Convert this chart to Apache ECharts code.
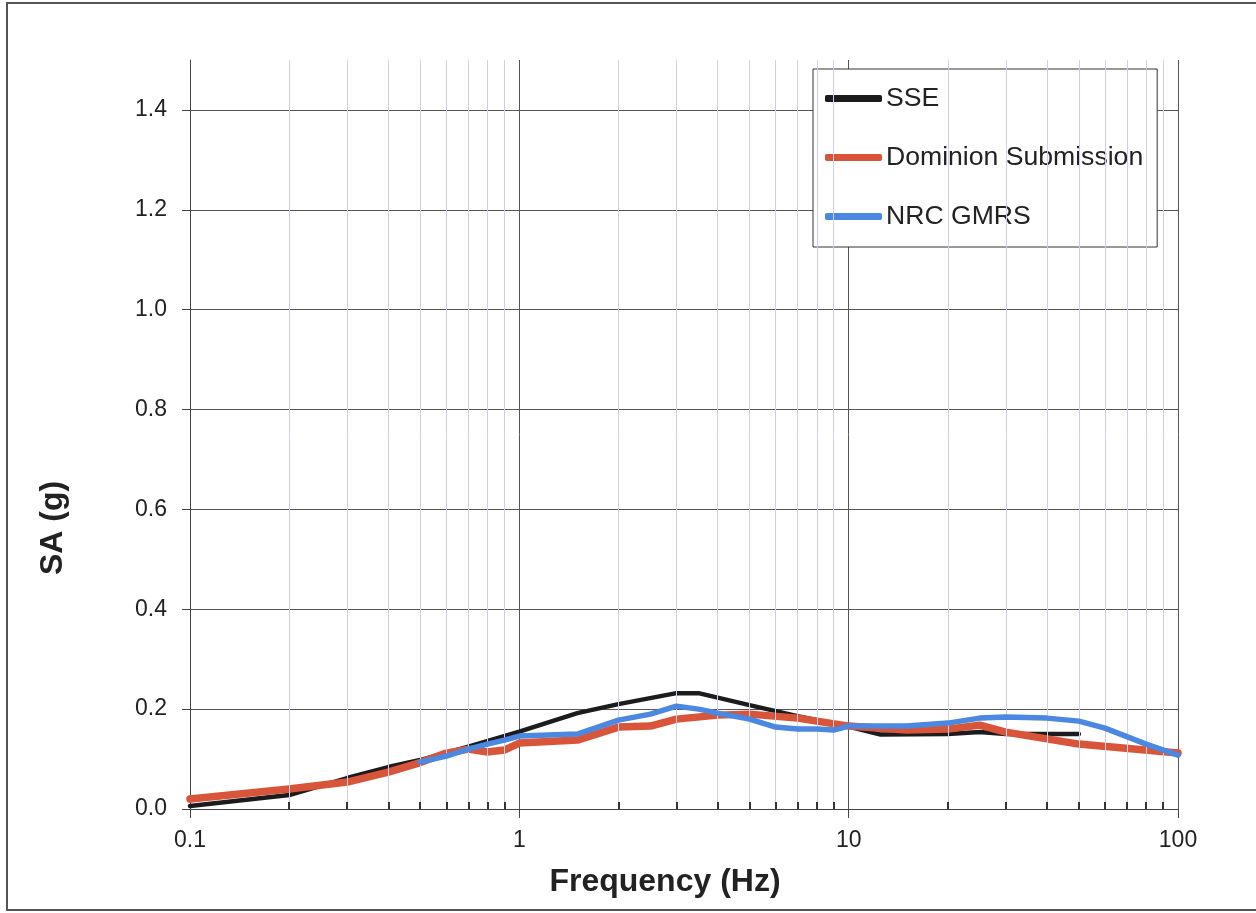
<!DOCTYPE html>
<html>
<head>
<meta charset="utf-8">
<script src="https://cdn.jsdelivr.net/npm/echarts@6/dist/echarts.min.js"></script>
<style>html,body{margin:0;padding:0;background:#fff;}#c{width:1256px;height:913px;}</style>
</head>
<body>
<div id="c"></div>
<script>
// ---- data ----
const sse = [[0.1,0.006],[0.2,0.028],[0.3,0.062],[0.4,0.084],[0.5,0.098],[0.7,0.125],[1,0.155],[1.5,0.192],[2,0.21],[3,0.232],[3.5,0.232],[5,0.208],[7,0.186],[10,0.165],[12.5,0.149],[20,0.15],[25,0.154],[30,0.15],[50,0.15]];
const dominion = [[0.1,0.02],[0.2,0.04],[0.3,0.054],[0.4,0.074],[0.5,0.093],[0.6,0.112],[0.7,0.12],[0.8,0.114],[0.9,0.118],[1,0.132],[1.5,0.138],[2,0.164],[2.5,0.166],[3,0.18],[4,0.188],[5,0.19],[7,0.182],[10,0.166],[15,0.158],[20,0.16],[25,0.168],[30,0.154],[50,0.13],[100,0.112]];
const nrc = [[0.5,0.094],[0.6,0.106],[0.7,0.12],[0.8,0.13],[0.9,0.138],[1,0.146],[1.5,0.15],[2,0.178],[2.5,0.19],[3,0.206],[3.5,0.2],[4,0.192],[5,0.18],[6,0.164],[7,0.16],[8,0.16],[9,0.158],[10,0.166],[15,0.166],[20,0.172],[25,0.182],[30,0.184],[40,0.182],[50,0.176],[60,0.162],[80,0.13],[100,0.108]];
const minorTicks = [0.2,0.3,0.4,0.5,0.6,0.7,0.8,0.9,2,3,4,5,6,7,8,9,20,30,40,50,60,70,80,90];
const seriesNames = ['SSE','Dominion Submission','NRC GMRS'];

const FONT = "'Liberation Sans', Arial, sans-serif";
const TICK_LEN = 0.014; // minor tick length in axis units
const chart = echarts.init(document.getElementById('c'));
chart.setOption({
  backgroundColor: '#fff',
  animation: false,
  graphic: [{type:'rect', shape:{x:7,y:3,width:1262,height:907}, style:{fill:'none', stroke:'#555', lineWidth:2}, silent:true}],
  grid: {left:190, right:78, top:60, bottom:104},
  legend: {
    orient:'vertical', left:813, top:69, data: seriesNames,
    backgroundColor:'#fff', borderColor:'#333', borderWidth:1,
    padding:[16,14,17,12], itemGap:32, itemWidth:57, itemHeight:7, icon:'roundRect',
    textStyle:{fontFamily:FONT, fontSize:26.6, color:'#222', padding:[0,0,0,-1]}
  },
  xAxis: {
    type:'log', logBase:10, min:0.1, max:100,
    name:'Frequency (Hz)', nameLocation:'middle', nameGap:57,
    nameTextStyle:{fontFamily:FONT, fontSize:32, fontWeight:'bold', color:'#222', padding:[0,38,0,0]},
    axisLine:{show:true, lineStyle:{color:'#444', width:1}},
    axisTick:{show:true, inside:false, length:9, lineStyle:{color:'#444'}},
    axisLabel:{fontFamily:FONT, fontSize:23, color:'#222', margin:20, formatter:v=>String(+v.toPrecision(3))},
    splitLine:{show:true, lineStyle:{color:'#555', width:1}}
  },
  yAxis: {
    type:'value', min:0, max:1.5, interval:0.2,
    name:'SA (g)', nameLocation:'middle', nameGap:121,
    nameTextStyle:{fontFamily:FONT, fontSize:32, fontWeight:'bold', color:'#222', padding:[0,187,0,0]},
    axisLine:{show:true, lineStyle:{color:'#444', width:1}},
    axisTick:{show:true, length:8, lineStyle:{color:'#444'}},
    axisLabel:{fontFamily:FONT, fontSize:23, color:'#222', margin:23, showMaxLabel:false, formatter:v=>v.toFixed(1)},
    splitLine:{show:true, lineStyle:{color:['#555','#555','#555','#555','#555','#555','#555','#555','transparent'], width:1}}
  },
  series: [
    {name:'minorGrid', type:'line', data:[], z:1, silent:true,
     markLine:{silent:true, symbol:'none', animation:false, label:{show:false},
       lineStyle:{color:'#cdd1e5', type:'solid', width:1},
       data: minorTicks.map(v=>({xAxis:v}))}},
    {name:'minorTick', type:'line', data:[], z:2, silent:true,
     markLine:{silent:true, symbol:'none', animation:false, label:{show:false},
       lineStyle:{color:'#333', type:'solid', width:2},
       data: minorTicks.map(v=>[{coord:[v,0]},{coord:[v,TICK_LEN]}])}},
    {name:'SSE', type:'line', data:sse, showSymbol:false, symbol:'none', z:3,
     color:'#1c1c1e', lineStyle:{color:'#1c1c1e', width:4.5, cap:'round', join:'round'}},
    {name:'Dominion Submission', type:'line', data:dominion, showSymbol:false, symbol:'none', z:4,
     color:'#d9553a', lineStyle:{color:'#d9553a', width:7.5, cap:'round', join:'round'}},
    {name:'NRC GMRS', type:'line', data:nrc, showSymbol:false, symbol:'none', z:5,
     color:'#4a88e2', lineStyle:{color:'#4a88e2', width:5.5, cap:'round', join:'round'}}
  ]
});
</script>
</body>
</html>
